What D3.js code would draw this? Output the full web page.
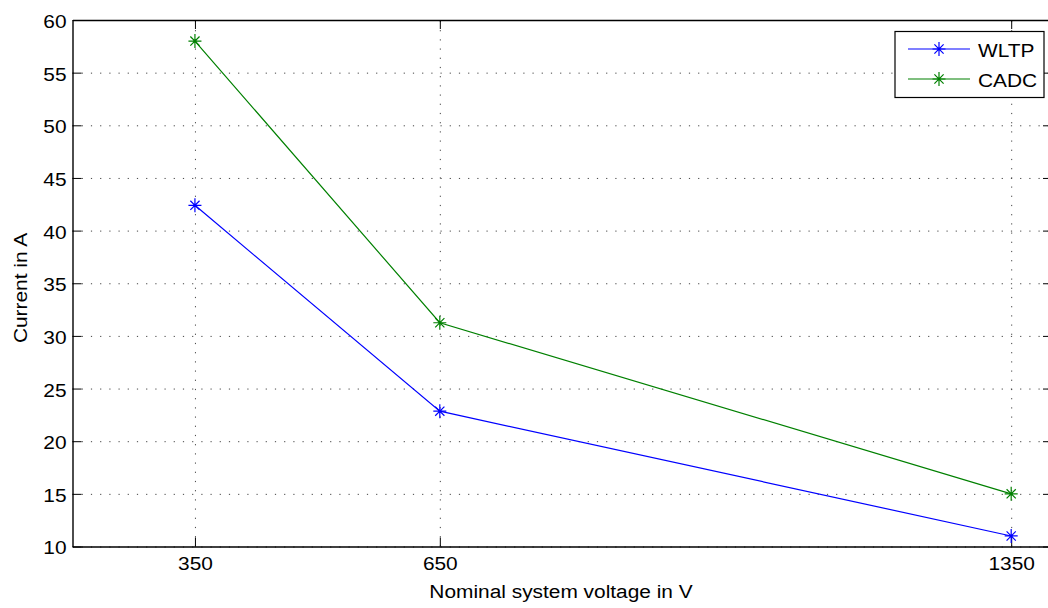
<!DOCTYPE html>
<html>
<head>
<meta charset="utf-8">
<script src="https://cdn.jsdelivr.net/npm/d3@7"></script>
<style>
  html, body { margin: 0; padding: 0; background: #fff; }
  svg { display: block; }
  text { font-family: "Liberation Sans", Arial, Helvetica, sans-serif; fill: #000; }
</style>
</head>
<body>
<svg id="chart" width="1048" height="608"></svg>
<script>
// Nominal system voltage (V) on the x axis
const voltages = [350, 650, 1350];
// Current (A) for each drive cycle
const wltp = [42.4, 22.85, 11.0];
const cadc = [58.0, 31.25, 15.0];
const seriesNames = ["WLTP", "CADC"];
const seriesColors = ["#0000ff", "#008000"];
// Axis ticks
const xTicks = [350, 650, 1350];
const yTicks = [10, 15, 20, 25, 30, 35, 40, 45, 50, 55, 60];

const plot = { left: 72.5, top: 20, right: 1052, bottom: 546.5 };
const FS = 18, STRETCH = 1.16;

const svg = d3.select("#chart");

const x = d3.scaleLinear().domain([200, 1400]).range([plot.left, plot.right]);
const y = d3.scaleLinear().domain([10, 60]).range([plot.bottom, plot.top]);

// Dotted grid
const grid = svg.append("g");
grid.append("g")
  .attr("transform", `translate(0,${plot.bottom})`)
  .call(d3.axisBottom(x).tickValues(xTicks).tickSize(-(plot.bottom - plot.top)).tickFormat(""))
  .call(g => g.select(".domain").remove());
grid.append("g")
  .attr("transform", `translate(${plot.left},0)`)
  .call(d3.axisLeft(y).tickValues(yTicks).tickSize(-(plot.right - plot.left)).tickFormat(""))
  .call(g => g.select(".domain").remove());
grid.selectAll("line")
  .attr("stroke", "#444")
  .attr("stroke-width", 1)
  .attr("stroke-dasharray", "1.2,8");

// Axis frame with inward ticks on all four sides
const tickLen = 9;
const axStyle = g => {
  g.select(".domain").attr("stroke", "#000").attr("stroke-width", 1.4);
  g.selectAll(".tick line").attr("stroke", "#000").attr("stroke-width", 1);
  g.selectAll("text").style("font-size", FS + "px").attr("fill", "#000");
};

const xAxis = svg.append("g")
  .attr("transform", `translate(0,${plot.bottom})`)
  .call(d3.axisBottom(x).tickValues(xTicks).tickFormat(d3.format("d"))
    .tickSizeInner(-tickLen).tickSizeOuter(0).tickPadding(11))
  .call(axStyle);
xAxis.selectAll("text").attr("transform", `scale(${STRETCH},1)`);

svg.append("g")
  .attr("transform", `translate(0,${plot.top})`)
  .call(d3.axisTop(x).tickValues(xTicks).tickSizeInner(-tickLen).tickSizeOuter(0).tickFormat(""))
  .call(axStyle);

const yAxis = svg.append("g")
  .attr("transform", `translate(${plot.left},0)`)
  .call(d3.axisLeft(y).tickValues(yTicks).tickFormat(d3.format("d"))
    .tickSizeInner(-tickLen).tickSizeOuter(0).tickPadding(6))
  .call(axStyle);
yAxis.selectAll("text")
  .attr("x", 0)
  .attr("dy", "0.36em")
  .attr("transform", `translate(-6,1) scale(${STRETCH},1)`);

svg.append("g")
  .attr("transform", `translate(${plot.right},0)`)
  .call(d3.axisRight(y).tickValues(yTicks).tickSizeInner(-tickLen).tickSizeOuter(0).tickFormat(""))
  .call(axStyle);

// Axis titles
svg.append("text")
  .attr("text-anchor", "middle")
  .attr("transform", `translate(561,598) scale(${STRETCH},1)`)
  .style("font-size", FS + "px")
  .text("Nominal system voltage in V");

svg.append("text")
  .attr("text-anchor", "middle")
  .attr("transform", `translate(26.5,288) rotate(-90) scale(${STRETCH},1)`)
  .style("font-size", FS + "px")
  .text("Current in A");

// Asterisk marker path
function star(cx, cy) {
  const h = 6.5, v = 7, d = 4.6;
  return `M${cx - h},${cy}H${cx + h}M${cx},${cy - v}V${cy + v}` +
         `M${cx - d},${cy - d}L${cx + d},${cy + d}M${cx - d},${cy + d}L${cx + d},${cy - d}`;
}

const series = [wltp, cadc];
const line = d3.line().x((d, i) => x(voltages[i])).y(d => y(d));

series.forEach((vals, s) => {
  const g = svg.append("g");
  g.append("path")
    .attr("d", line(vals))
    .attr("fill", "none")
    .attr("stroke", seriesColors[s])
    .attr("stroke-width", 1.2);
  g.selectAll("path.mk")
    .data(vals)
    .join("path")
    .attr("class", "mk")
    .attr("d", (d, i) => star(x(voltages[i]), y(d)))
    .attr("stroke", seriesColors[s])
    .attr("stroke-width", 1.2)
    .attr("fill", "none");
});

// Legend
const leg = svg.append("g");
leg.append("rect")
  .attr("x", 895).attr("y", 31.5)
  .attr("width", 149).attr("height", 66)
  .attr("fill", "#fff")
  .attr("stroke", "#000")
  .attr("stroke-width", 1.2);
seriesNames.forEach((name, s) => {
  const ly = 49 + s * 30;
  leg.append("line")
    .attr("x1", 908).attr("x2", 970)
    .attr("y1", ly).attr("y2", ly)
    .attr("stroke", seriesColors[s])
    .attr("stroke-width", 1.2);
  leg.append("path")
    .attr("d", star(939, ly))
    .attr("stroke", seriesColors[s])
    .attr("stroke-width", 1.2)
    .attr("fill", "none");
  leg.append("text")
    .attr("transform", `translate(978,${ly + 8}) scale(${STRETCH},1)`)
    .style("font-size", FS + "px")
    .text(name);
});
</script>
</body>
</html>
